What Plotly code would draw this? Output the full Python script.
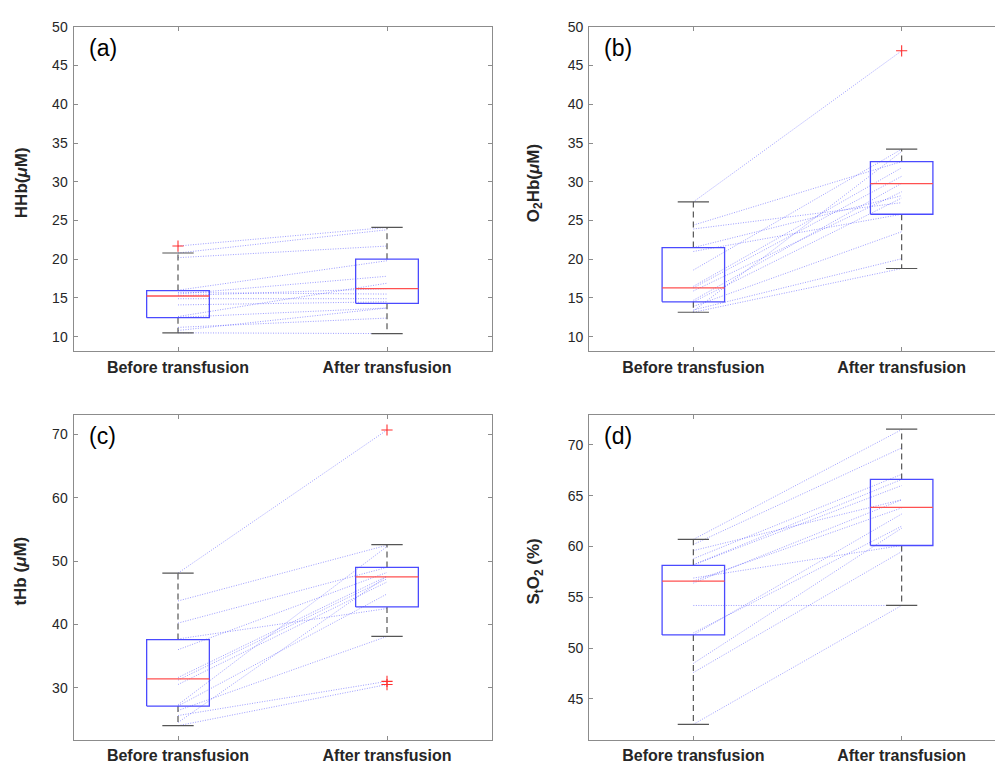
import plotly.graph_objects as go

# ---------------- data ----------------
categories = ["Before transfusion", "After transfusion"]
panel_labels = ["(a)", "(b)", "(c)", "(d)"]
y_titles = [
    "<b>HHb(<i>μ</i>M)</b>",
    "<b>O<sub>2</sub>Hb(<i>μ</i>M)</b>",
    "<b>tHb (<i>μ</i>M)</b>",
    "<b>S<sub>t</sub>O<sub>2</sub> (%)</b>",
]

# paired subject values (before -> after)
hhb_before = [21.7, 20.8, 20.2, 16.0, 15.7, 15.5, 15.3, 14.9, 14.1, 12.6, 12.5, 11.2, 10.8, 10.5]
hhb_after = [24.1, 23.8, 21.7, 19.8, 15.5, 17.8, 16.2, 14.9, 14.5, 16.9, 13.7, 12.4, 13.7, 10.4]

o2hb_before = [27.4, 24.4, 23.9, 21.5, 21.0, 18.6, 16.5, 16.3, 15.9, 14.7, 14.5, 13.9, 13.45, 13.15, 13.3]
o2hb_after = [46.9, 32.6, 27.3, 28.2, 25.8, 34.2, 31.8, 30.7, 28.7, 29.8, 27.9, 23.55, 20.06, 18.8, 33.9]

thb_before = [48.1, 43.7, 40.2, 37.7, 36.0, 31.6, 31.2, 30.5, 27.3, 27.1, 26.4, 25.6, 24.0, 24.5]
thb_after = [70.7, 52.5, 49.0, 42.5, 48.2, 47.6, 47.2, 46.7, 52.3, 44.8, 38.1, 31.0, 30.5, 47.6]

sto2_before = [42.5, 54.2, 47.6, 48.5, 51.5, 51.3, 56.9, 56.4, 58.2, 58.2, 58.8, 59.6, 60.2, 60.7, 56.6]
sto2_after = [54.2, 54.2, 59.5, 61.8, 62.0, 63.2, 60.1, 64.6, 66.0, 66.6, 67.1, 64.6, 69.7, 71.5, 63.8]

# box statistics: [lower whisker, Q1, median, Q3, upper whisker]
hhb_stats_before = [10.5, 12.45, 15.25, 15.95, 20.8]
hhb_stats_after = [10.4, 14.3, 16.2, 20.0, 24.1]
o2hb_stats_before = [13.15, 14.5, 16.3, 21.5, 27.4]
o2hb_stats_after = [18.8, 25.8, 29.75, 32.6, 34.2]
thb_stats_before = [24.0, 27.1, 31.4, 37.6, 48.1]
thb_stats_after = [38.1, 42.75, 47.5, 49.0, 52.6]
sto2_stats_before = [42.5, 51.3, 56.6, 58.15, 60.7]
sto2_stats_after = [54.2, 60.1, 63.85, 66.6, 71.55]

# outliers
hhb_out_before = [21.7]
hhb_out_after = []
o2hb_out_before = []
o2hb_out_after = [46.9]
thb_out_before = []
thb_out_after = [70.7, 31.0, 30.5]
sto2_out_before = []
sto2_out_after = []

# axis settings
y_ranges = [[8.1, 50], [8.1, 50], [21.8, 73], [41.0, 72.9]]
y_ticks = [list(range(10, 51, 5)), list(range(10, 51, 5)), list(range(30, 71, 10)), list(range(45, 71, 5))]

panels = [
    (hhb_before, hhb_after, hhb_stats_before, hhb_stats_after, hhb_out_before, hhb_out_after),
    (o2hb_before, o2hb_after, o2hb_stats_before, o2hb_stats_after, o2hb_out_before, o2hb_out_after),
    (thb_before, thb_after, thb_stats_before, thb_stats_after, thb_out_before, thb_out_after),
    (sto2_before, sto2_after, sto2_stats_before, sto2_stats_after, sto2_out_before, sto2_out_after),
]

# ---------------- figure ----------------
W, H = 995, 770
fig = go.Figure()

BOX_HW = 0.15
CAP_HW = 0.075
AXCOL = "#8c8c8c"
TXT = "#262626"
FONT = "Liberation Sans, Arial, Helvetica, sans-serif"

for i, (bef, aft, sb, sa, ob, oa) in enumerate(panels):
    n = i + 1
    xa = "x" if n == 1 else f"x{n}"
    ya = "y" if n == 1 else f"y{n}"
    # paired lines
    lx, ly = [], []
    for b, a in zip(bef, aft):
        lx += [1, 2, None]
        ly += [b, a, None]
    fig.add_trace(go.Scatter(x=lx, y=ly, mode="lines", xaxis=xa, yaxis=ya,
                             line=dict(color="rgba(60,60,255,0.5)", width=1, dash="1px,1.5px"),
                             hoverinfo="skip", showlegend=False))
    for c, s, outs in ((1, sb, ob), (2, sa, oa)):
        # whiskers (dashed)
        fig.add_trace(go.Scatter(x=[c, c, None, c, c], y=[s[3], s[4], None, s[1], s[0]],
                                 mode="lines", xaxis=xa, yaxis=ya,
                                 line=dict(color="#555555", width=1.2, dash="6px,4px"),
                                 hoverinfo="skip", showlegend=False))
        # caps
        fig.add_trace(go.Scatter(x=[c - CAP_HW, c + CAP_HW, None, c - CAP_HW, c + CAP_HW],
                                 y=[s[4], s[4], None, s[0], s[0]],
                                 mode="lines", xaxis=xa, yaxis=ya,
                                 line=dict(color="#555555", width=1.2),
                                 hoverinfo="skip", showlegend=False))
        # box
        fig.add_trace(go.Scatter(x=[c - BOX_HW, c + BOX_HW, c + BOX_HW, c - BOX_HW, c - BOX_HW],
                                 y=[s[1], s[1], s[3], s[3], s[1]],
                                 mode="lines", xaxis=xa, yaxis=ya,
                                 line=dict(color="#4a4aff", width=1.3),
                                 hoverinfo="skip", showlegend=False))
        # median
        fig.add_trace(go.Scatter(x=[c - BOX_HW, c + BOX_HW], y=[s[2], s[2]],
                                 mode="lines", xaxis=xa, yaxis=ya,
                                 line=dict(color="#ff5050", width=1.3),
                                 hoverinfo="skip", showlegend=False))
        if outs:
            fig.add_trace(go.Scatter(x=[c] * len(outs), y=outs, mode="markers",
                                     xaxis=xa, yaxis=ya,
                                     marker=dict(symbol="cross-thin", size=8,
                                                 line=dict(color="#ff3030", width=1.1)),
                                     hoverinfo="skip", showlegend=False))

# panel geometry in pixels
left_x = (73.5, 491.5)
right_x = (589.2, 995.0)
right_xmax = 2.5 - (1005.8 - 995.0) / 208.3
top_y = (19.0, 347.0)
bot_y = (411.7, 739.3)

geo = [
    (left_x, top_y, [0.5, 2.5], True),
    (right_x, top_y, [0.5, right_xmax], False),
    (left_x, bot_y, [0.5, 2.5], True),
    (right_x, bot_y, [0.5, right_xmax], False),
]

layout = dict(
    width=W, height=H, margin=dict(l=0, r=0, t=0, b=0),
    paper_bgcolor="white", plot_bgcolor="white",
    font=dict(family=FONT, color=TXT),
    showlegend=False,
)
annotations = []
for i, ((x0, x1), (y0, y1), xr, mir) in enumerate(geo):
    n = i + 1
    xk = "xaxis" if n == 1 else f"xaxis{n}"
    yk = "yaxis" if n == 1 else f"yaxis{n}"
    ya = "y" if n == 1 else f"y{n}"
    xa = "x" if n == 1 else f"x{n}"
    layout[xk] = dict(
        domain=[x0 / W, x1 / W], range=xr, anchor=ya,
        tickvals=[1, 2], ticktext=[f"<b>{c}</b>" for c in categories],
        ticks="inside", ticklen=4, tickcolor=AXCOL,
        showline=True, linecolor=AXCOL, linewidth=1, mirror="ticks",
        showgrid=False, zeroline=False,
        tickfont=dict(size=16, color=TXT, family=FONT),
        ticklabelstandoff=1,
    )
    layout[yk] = dict(
        domain=[1 - y1 / H, 1 - y0 / H], range=y_ranges[i], anchor=xa,
        tickvals=y_ticks[i],
        ticks="inside", ticklen=4, tickcolor=AXCOL,
        showline=True, linecolor=AXCOL, linewidth=1,
        mirror="ticks" if mir else False,
        showgrid=False, zeroline=False,
        tickfont=dict(size=14, color=TXT, family=FONT),
        ticklabelstandoff=2,
    )
    # panel label
    annotations.append(dict(text=panel_labels[i], xref="paper", yref="paper",
                            x=(x0 + 13) / W, y=1 - (y0 + 21) / H,
                            xanchor="left", yanchor="middle", showarrow=False,
                            font=dict(size=23, color="black", family=FONT)))
    # y-axis title
    tx = 21 if x0 < 100 else 535
    annotations.append(dict(text=y_titles[i], xref="paper", yref="paper",
                            x=tx / W, y=1 - ((y0 + y1) / 2 - 6) / H,
                            xanchor="center", yanchor="middle", textangle=-90,
                            showarrow=False,
                            font=dict(size=17, color=TXT, family=FONT)))
layout["annotations"] = annotations
fig.update_layout(**layout)

fig.write_html("out.html", include_plotlyjs=True,
               config={"displayModeBar": False},
               post_script="document.body.style.margin='0';document.body.style.overflow='hidden';")
